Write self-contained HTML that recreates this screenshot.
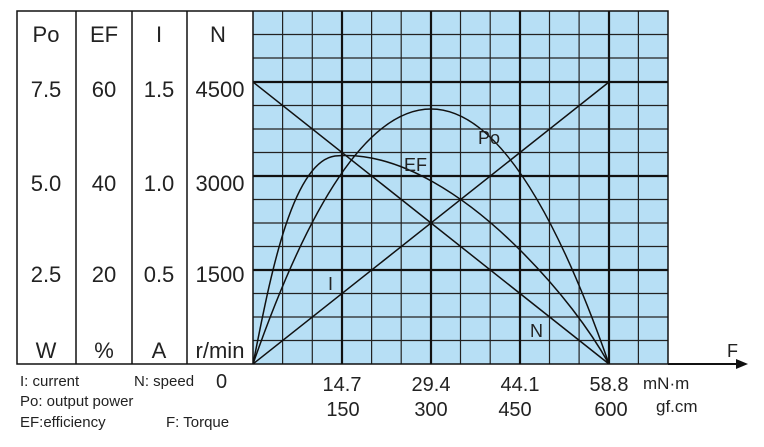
<!DOCTYPE html>
<html><head><meta charset="utf-8"><style>
body{margin:0;background:#fff;}
svg{display:block;font-family:"Liberation Sans",sans-serif;}
</style></head><body>
<svg width="764" height="447" viewBox="0 0 764 447" xmlns="http://www.w3.org/2000/svg">
<rect x="253" y="11" width="415" height="353" fill="#b7dff5"/>
<g stroke="#222" stroke-width="1.2">
<line x1="282.6" y1="11" x2="282.6" y2="364"/><line x1="312.3" y1="11" x2="312.3" y2="364"/>
<line x1="371.6" y1="11" x2="371.6" y2="364"/><line x1="401.2" y1="11" x2="401.2" y2="364"/>
<line x1="460.5" y1="11" x2="460.5" y2="364"/><line x1="490.2" y1="11" x2="490.2" y2="364"/>
<line x1="549.5" y1="11" x2="549.5" y2="364"/><line x1="579.1" y1="11" x2="579.1" y2="364"/>
<line x1="638.4" y1="11" x2="638.4" y2="364"/>
<line x1="253" y1="34.5" x2="668" y2="34.5"/><line x1="253" y1="58" x2="668" y2="58"/>
<line x1="253" y1="105.5" x2="668" y2="105.5"/><line x1="253" y1="129" x2="668" y2="129"/><line x1="253" y1="152.5" x2="668" y2="152.5"/>
<line x1="253" y1="199.5" x2="668" y2="199.5"/><line x1="253" y1="223" x2="668" y2="223"/><line x1="253" y1="246.5" x2="668" y2="246.5"/>
<line x1="253" y1="293.5" x2="668" y2="293.5"/><line x1="253" y1="317" x2="668" y2="317"/><line x1="253" y1="340.5" x2="668" y2="340.5"/>
</g>
<g stroke="#111" stroke-width="2.2">
<line x1="342" y1="11" x2="342" y2="364"/><line x1="431" y1="11" x2="431" y2="364"/>
<line x1="520" y1="11" x2="520" y2="364"/><line x1="609" y1="11" x2="609" y2="364"/>
<line x1="253" y1="82" x2="668" y2="82"/><line x1="253" y1="176" x2="668" y2="176"/><line x1="253" y1="270" x2="668" y2="270"/>
</g>
<g stroke="#111" stroke-width="1.5" fill="none">
<rect x="17" y="11" width="651" height="353"/>
<line x1="76" y1="11" x2="76" y2="364"/><line x1="132" y1="11" x2="132" y2="364"/>
<line x1="187" y1="11" x2="187" y2="364"/><line x1="253" y1="11" x2="253" y2="364"/>
<line x1="668" y1="364" x2="745" y2="364" stroke-width="2"/>
</g>
<polygon points="748,364 736,359 736,369" fill="#111"/>
<g stroke="#111" stroke-width="1.5" fill="none">
<line x1="253" y1="82" x2="609" y2="364"/>
<line x1="253" y1="364" x2="609" y2="82"/>
<path d="M253,364 Q431,-146 609,364"/>
<path d="M253,364 C268,290 290,162 335,156 C400,150 470,200 520,250 C560,290 590,330 609,364"/>
</g>
<g font-size="22" fill="#222" text-anchor="middle">
<text x="46" y="42">Po</text><text x="104" y="42">EF</text><text x="159" y="42">I</text><text x="218" y="42">N</text>
<text x="46" y="97">7.5</text><text x="104" y="97">60</text><text x="159" y="97">1.5</text><text x="220" y="97">4500</text>
<text x="46" y="191">5.0</text><text x="104" y="191">40</text><text x="159" y="191">1.0</text><text x="220" y="191">3000</text>
<text x="46" y="282">2.5</text><text x="104" y="282">20</text><text x="159" y="282">0.5</text><text x="220" y="282">1500</text>
<text x="46" y="358">W</text><text x="104" y="358">%</text><text x="159" y="358">A</text><text x="220" y="358">r/min</text>
</g>
<g font-size="18" fill="#222">
<text x="478" y="144">Po</text><text x="404" y="171">EF</text><text x="328" y="290">I</text><text x="530" y="337">N</text>
<text x="727" y="357">F</text>
</g>
<g font-size="20" fill="#222" text-anchor="middle">
<text x="342" y="391">14.7</text><text x="431" y="391">29.4</text><text x="520" y="391">44.1</text><text x="609" y="391">58.8</text>
<text x="343" y="416">150</text><text x="431" y="416">300</text><text x="515" y="416">450</text><text x="611" y="416">600</text>
</g>
<g font-size="17" fill="#222">
<text x="643" y="389">mN·m</text><text x="656" y="412">gf.cm</text>
</g>
<g font-size="15" fill="#222">
<text x="20" y="386">I:  current</text><text x="134" y="386">N: speed</text><text x="216" y="388" font-size="20">0</text>
<text x="20" y="406">Po: output power</text>
<text x="20" y="427">EF:efficiency</text><text x="166" y="427">F: Torque</text>
</g>
</svg>
</body></html>
